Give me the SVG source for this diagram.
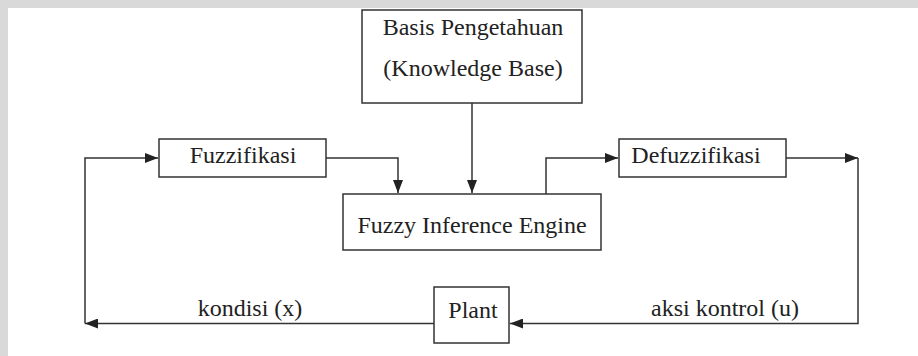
<svg xmlns="http://www.w3.org/2000/svg" width="918" height="356" viewBox="0 0 918 356">
<style>
.box{fill:#fff;stroke:#333;stroke-width:1.5}
text{font-family:'Liberation Serif','Times New Roman','DejaVu Serif',serif;font-size:24px;fill:#222;text-anchor:middle}
.c{fill:none;stroke:#333;stroke-width:1.5}
</style>
<defs>
<marker id="ah" viewBox="0 0 13 10" refX="13" refY="5" markerWidth="13" markerHeight="10" markerUnits="userSpaceOnUse" orient="auto">
<path d="M0,0 L13,5 L0,10 Z" fill="#222"/>
</marker>
</defs>
<rect width="918" height="356" fill="#fff"/>
<rect x="0" y="0" width="918" height="8" fill="#d9d9d9"/>
<rect x="0" y="0" width="8" height="356" fill="#d9d9d9"/>
<g id="connectors">
<path class="c" d="M472,103 V193" marker-end="url(#ah)"/>
<path class="c" d="M326,158 H398 V193" marker-end="url(#ah)"/>
<path class="c" d="M546,194 V158 H618" marker-end="url(#ah)"/>
<path class="c" d="M786,158 H858" marker-end="url(#ah)"/>
<path class="c" d="M858,158 V323.5 H510" marker-end="url(#ah)"/>
<path class="c" d="M434,323.5 H85" marker-end="url(#ah)"/>
<path class="c" d="M85,323.5 V158 H158" marker-end="url(#ah)"/>
</g>
<g id="kb">
<rect class="box" x="362" y="10" width="220" height="93"/>
<text x="473" y="35" font-family="Liberation Serif, serif">Basis Pengetahuan</text>
<text x="473" y="76" font-family="Liberation Serif, serif">(Knowledge Base)</text>
</g>
<g id="fuzz">
<rect class="box" x="159" y="139" width="167" height="38"/>
<text x="243" y="163" font-family="Liberation Serif, serif">Fuzzifikasi</text>
</g>
<g id="fie">
<rect class="box" x="343" y="194" width="258" height="56"/>
<text x="472" y="233" font-family="Liberation Serif, serif">Fuzzy Inference Engine</text>
</g>
<g id="defuzz">
<rect class="box" x="619" y="139" width="167" height="38"/>
<text x="696" y="163" font-family="Liberation Serif, serif">Defuzzifikasi</text>
</g>
<g id="plant">
<rect class="box" x="434" y="287" width="75" height="56"/>
<text x="473" y="318" font-family="Liberation Serif, serif">Plant</text>
</g>
<g id="labels">
<text x="250" y="316" font-family="Liberation Serif, serif">kondisi (x)</text>
<text x="725" y="316" font-family="Liberation Serif, serif">aksi kontrol (u)</text>
</g>
</svg>
